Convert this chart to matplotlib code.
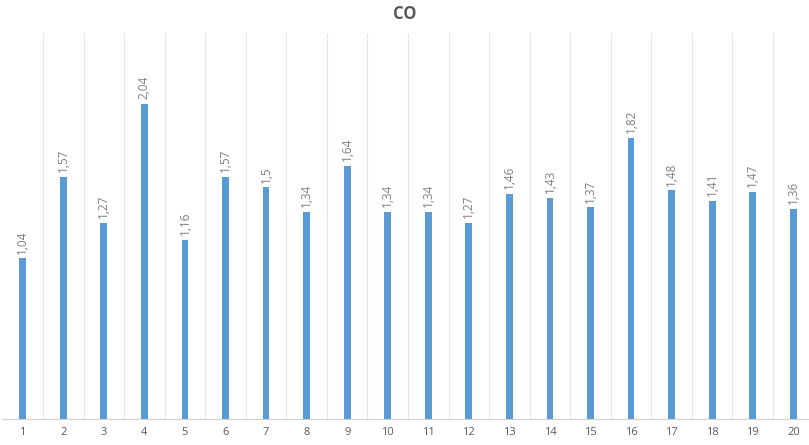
import matplotlib
matplotlib.use("Agg")
import matplotlib.pyplot as plt
import numpy as np

categories = [str(i) for i in range(1, 21)]
values = [1.04, 1.57, 1.27, 2.04, 1.16, 1.57, 1.5, 1.34, 1.64, 1.34,
          1.34, 1.27, 1.46, 1.43, 1.37, 1.82, 1.48, 1.41, 1.47, 1.36]
title = "CO"

plt.rcParams["font.family"] = ["Open Sans", "DejaVu Sans"]

W, H = 809, 445
fig = plt.figure(figsize=(W / 100, H / 100), dpi=100)
ax = fig.add_axes([2.4 / W, 26 / H, 811.2 / W, 386 / H])

x = np.arange(len(categories))
bar_color = "#5B9BD5"
text_color = "#595959"
label_color = "#7F7F7F"
grid_color = "#D0D0D0"

ax.bar(x, values, width=0.165, color=bar_color, zorder=3)

# category separators
for b in np.arange(0.5, len(categories) - 1, 1.0):
    ax.axvline(b, color=grid_color, linestyle=(0, (1.2, 1.2)), linewidth=0.8, zorder=1)

for xi, v in zip(x, values):
    label = f"{v:g}".replace(".", ",")
    ax.annotate(label, (xi, v), xytext=(0, 3.5), textcoords="offset points",
                rotation=90, ha="center", va="bottom", fontsize=8.5,
                color=label_color)

ax.set_xlim(-0.5, len(categories) - 0.5)
ax.set_ylim(0, 2.5)
ax.set_xticks(x)
ax.set_xticklabels(categories, fontsize=8, color=text_color)
ax.tick_params(axis="x", length=0, pad=6)
ax.set_yticks([])
for s in ["left", "right", "top"]:
    ax.spines[s].set_visible(False)
ax.spines["bottom"].set_color(grid_color)
ax.spines["bottom"].set_linewidth(0.8)

fig.text(404.5 / W, 1 - 14 / H, title, ha="center", va="center",
         fontsize=12, fontweight="bold", color=text_color)

fig.savefig("out.png", dpi=100)
